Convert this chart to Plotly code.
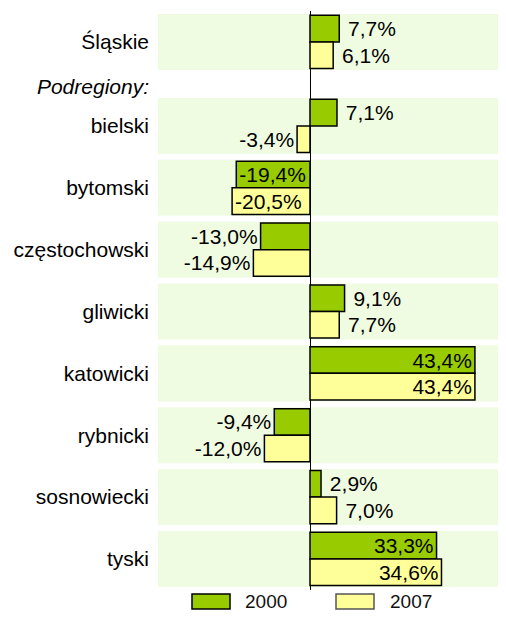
import plotly.graph_objects as go

categories = ["Śląskie", "bielski", "bytomski", "częstochowski", "gliwicki",
              "katowicki", "rybnicki", "sosnowiecki", "tyski"]
v2000 = [7.7, 7.1, -19.4, -13.0, 9.1, 43.4, -9.4, 2.9, 33.3]
v2007 = [6.1, -3.4, -20.5, -14.9, 7.7, 43.4, -12.0, 7.0, 34.6]
subheader = "Podregiony:"
years = ["2000", "2007"]

GREEN = "#99CC00"
YELLOW = "#FFFF99"
BAND = "#F0FCE2"
FONT = "Liberation Sans, Arial, sans-serif"
FS = 21

# row positions: first row (voivodeship), then a gap with the sub-header, then sub-regions
GAP = 0.358
ypos = [0.0] + [i + GAP for i in range(1, len(categories))]
sub_y = 0.73

def fmt(v):
    s = f"{v:.1f}".replace(".", ",") + "%"
    if 0 < v <= 19:
        s = " " + s
    return s

def positions(vals):
    return ["inside" if abs(v) > 19 else "outside" for v in vals]

BW = 0.43
fig = go.Figure()
for name, vals, col, off in [(years[0], v2000, GREEN, -BW), (years[1], v2007, YELLOW, 0.0)]:
    fig.add_trace(go.Bar(
        name=name, x=vals, y=ypos, orientation="h",
        width=BW, offset=off,
        marker=dict(color=col, line=dict(color="black", width=1.5)),
        text=[fmt(v) for v in vals], textposition=positions(vals),
        insidetextanchor="end", constraintext="none", cliponaxis=False,
        textfont=dict(family=FONT, size=FS, color="black"),
        showlegend=False, hoverinfo="skip",
    ))

shapes = []
for y in ypos:
    shapes.append(dict(type="rect", xref="paper", yref="y", x0=0, x1=1,
                       y0=y - 0.453, y1=y + 0.453, fillcolor=BAND,
                       line=dict(width=0), layer="below"))

# manual legend (below the plot area)
leg = [(years[0], GREEN, "black", 0.0977, 0.2069, 0.2443),
       (years[1], YELLOW, "#555555", 0.5115, 0.6207, 0.6609)]
annotations = []
for name, col, lc, x0, x1, xt in leg:
    shapes.append(dict(type="rect", xref="paper", yref="paper", x0=x0, x1=x1,
                       y0=-0.0330, y1=-0.0070, fillcolor=col,
                       line=dict(color=lc, width=1.5)))
    annotations.append(dict(xref="paper", yref="paper", x=xt, y=-0.0190,
                            text=name, showarrow=False, xanchor="left",
                            yanchor="middle",
                            font=dict(family=FONT, size=19, color="#111111")))

fig.update_layout(
    autosize=False,
    barmode="overlay",
    width=498, height=604,
    margin=dict(l=150, r=0, t=3, b=22, autoexpand=False),
    plot_bgcolor="white", paper_bgcolor="white",
    shapes=shapes, annotations=annotations,
    font=dict(family=FONT, size=FS, color="black"),
    xaxis=dict(range=[-40, 51.58], showticklabels=False, showgrid=False,
               zeroline=True, zerolinecolor="black", zerolinewidth=1.2,
               fixedrange=True, automargin=False),
    yaxis=dict(range=[8.86, -0.5], tickmode="array",
               tickvals=ypos + [sub_y],
               ticktext=categories + ["<i>" + subheader + "</i>"],
               showgrid=False, zeroline=False, ticks="", ticklabelstandoff=8,
               tickfont=dict(family=FONT, size=FS, color="black"),
               fixedrange=True, automargin=False),
)

fig.write_html("out.html")
